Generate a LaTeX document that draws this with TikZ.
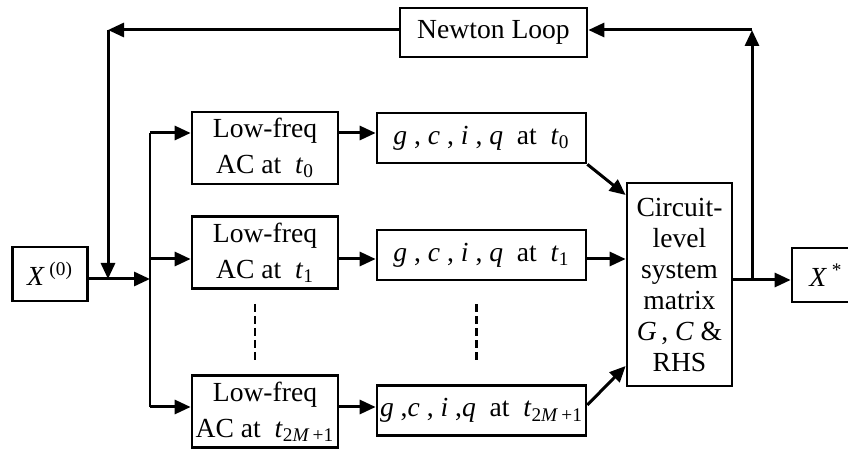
\documentclass[tikz,border=0pt]{standalone}
\usepackage{fontspec}
\setmainfont{Liberation Serif}
\usetikzlibrary{arrows.meta,calc}

\newcommand{\mv}[1]{\textit{#1}}

\tikzset{
  box/.style={draw, line width=1.35pt, align=center, inner sep=0pt,
    font=\fontsize{13.8}{16}\selectfont},
  lfbox/.style={box, minimum width=73pt, minimum height=36pt,
    font=\fontsize{13.8}{18}\selectfont},
  gbox/.style={box, minimum width=104.5pt, minimum height=25pt},
  arr/.style={line width=1.5pt, -{Triangle[length=8pt,width=7pt]}},
  link/.style={line width=1.2pt},
  dots/.style={line width=1.1pt, dash pattern=on 4pt off 2pt},
}

\begin{document}
\begin{tikzpicture}[x=0.5pt, y=-0.5pt]
    \useasboundingbox (0,0) rectangle (848,449);
    \clip (0,0) rectangle (848,449);

    % Input and output
    \node[box, minimum width=37.5pt, minimum height=27pt] (x0) at (50,274) {\mv{X}\,\textsuperscript{(0)}};
    \node[box, minimum width=34pt, minimum height=27pt] (xs) at (826,275) {\mv{X}\,\textsuperscript{*}};

    % Newton loop
    \node[box, minimum width=93.5pt, minimum height=24.5pt] (newton) at (493.5,32.5) {Newton Loop};

    % Low-freq AC blocks
    \node[lfbox] (lf0) at (265,148) {Low-freq\\AC at \ \mv{t}\textsubscript{0}};
    \node[lfbox] (lf1) at (265,252.5) {Low-freq\\AC at \ \mv{t}\textsubscript{1}};
    \node[lfbox] (lf2) at (265,411.5) {Low-freq\\AC at \ \mv{t}\textsubscript{2\mv{M}\,+1}};

    % g, c, i, q blocks
    \node[gbox] (g0) at (481.5,138) {\mv{g} , \mv{c} , \mv{i} , \mv{q} \ at \ \mv{t}\textsubscript{0}};
    \node[gbox] (g1) at (481.5,255) {\mv{g} , \mv{c} , \mv{i} , \mv{q} \ at \ \mv{t}\textsubscript{1}};
    \node[gbox] (g2) at (481.5,410.5) {\mv{g} ,\mv{c} , \mv{i} ,\mv{q} \ at \ \mv{t}\textsubscript{2\mv{M}\,+1}};

    % System matrix
    \node[box, minimum width=52.5pt, minimum height=101.5pt,
      font=\fontsize{13.8}{15.5}\selectfont] (circ) at (679.5,284.5)
      {Circuit-\\level\\system\\matrix\\\mv{G}\,, \mv{C} \&\\RHS};

    % Branch points
    \coordinate (split) at (150,279);
    \coordinate (row0) at (150,133);
    \coordinate (row1) at (150,259);
    \coordinate (row2) at (150,407);
    \coordinate (fbl) at (108,30);
    \coordinate (fbr) at (752,30);
    \coordinate (tap) at (752,280);

    % Input to the branches
    \draw[arr] (x0.east |- split) -- (split);
    \draw[link] (row0) -- (row2);
    \draw[arr] (row0) -- (row0 -| lf0.west);
    \draw[arr] (row1) -- (row1 -| lf1.west);
    \draw[arr] (row2) -- (row2 -| lf2.west);

    % Low-freq to g, c, i, q
    \draw[arr] (row0 -| lf0.east) -- (row0 -| g0.west);
    \draw[arr] (row1 -| lf1.east) -- (row1 -| g1.west);
    \draw[arr] (row2 -| lf2.east) -- (row2 -| g2.west);

    % Into the system matrix
    \draw[arr] (g0.south east) -- (circ.west |- 0,195);
    \draw[arr] (row1 -| g1.east) -- (row1 -| circ.west);
    \draw[arr] (g2.east |- 0,405) -- (circ.west |- 0,366);

    % Output
    \draw[arr] (circ.east |- tap) -- (xs.west |- tap);

    % Newton loop feedback
    \draw[arr] (tap) -- (fbr);
    \draw[arr] (fbr) -- (newton.east |- fbr);
    \draw[arr] (newton.west |- fbl) -- (fbl);
    \draw[arr] (fbl) -- (fbl |- split);

    % Ellipses
    \draw[dots] ($(lf1.south)+(-10,14)$) -- ($(lf2.north)+(-10,-13)$);
    \draw[dots] ($(g1.south)+(-5,23)$) -- ($(g2.north)+(-5,-23)$);
\end{tikzpicture}
\end{document}
